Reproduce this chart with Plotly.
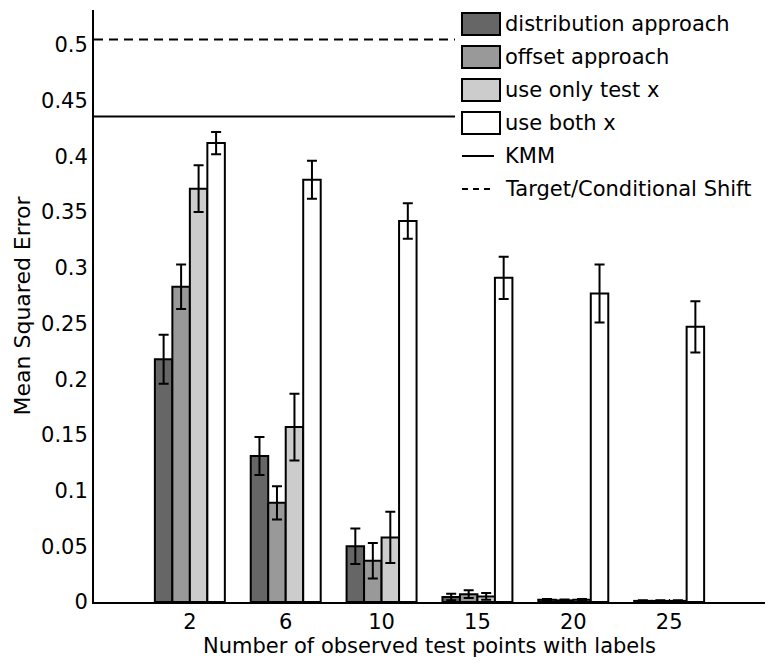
import plotly.graph_objects as go

# ---- data ----
categories = ["2", "6", "10", "15", "20", "25"]
series_names = ["distribution approach", "offset approach", "use only test x", "use both x"]
distribution_vals = [0.218, 0.131, 0.050, 0.0045, 0.0020, 0.0010]
distribution_err = [0.022, 0.017, 0.016, 0.0030, 0.0008, 0.0005]
offset_vals = [0.283, 0.089, 0.037, 0.0070, 0.0015, 0.0010]
offset_err = [0.020, 0.015, 0.016, 0.0035, 0.0008, 0.0005]
testx_vals = [0.371, 0.157, 0.058, 0.0050, 0.0020, 0.0010]
testx_err = [0.021, 0.030, 0.023, 0.0030, 0.0008, 0.0005]
bothx_vals = [0.412, 0.379, 0.342, 0.291, 0.277, 0.247]
bothx_err = [0.010, 0.017, 0.016, 0.019, 0.026, 0.023]
kmm_value = 0.4357
target_shift_value = 0.505
yticks = [0, 0.05, 0.1, 0.15, 0.2, 0.25, 0.3, 0.35, 0.4, 0.45, 0.5]
ytick_text = ["0", "0.05", "0.1", "0.15", "0.2", "0.25", "0.3", "0.35", "0.4", "0.45", "0.5"]

colors = ["#666666", "#999999", "#cccccc", "#ffffff"]
FONT = "DejaVu Sans"
FS = 21

xpos = list(range(1, len(categories) + 1))
fig = go.Figure()

# reference lines (across full x range)
fig.add_trace(go.Scatter(x=[0, len(categories) + 1], y=[kmm_value, kmm_value], mode="lines",
                         line=dict(color="black", width=2), showlegend=False, hoverinfo="skip"))
fig.add_trace(go.Scatter(x=[0, len(categories) + 1], y=[target_shift_value, target_shift_value], mode="lines",
                         line=dict(color="black", width=2, dash="9px,6px"), showlegend=False, hoverinfo="skip"))

all_vals = [distribution_vals, offset_vals, testx_vals, bothx_vals]
all_errs = [distribution_err, offset_err, testx_err, bothx_err]
for name, vals, errs, col in zip(series_names, all_vals, all_errs, colors):
    fig.add_trace(go.Bar(
        x=xpos, y=vals, name=name,
        marker=dict(color=col, line=dict(color="black", width=2)),
        error_y=dict(type="data", array=errs, visible=True, color="black", thickness=2, width=5),
        showlegend=False,
    ))

# ---- manual legend (paper coords) ----
L, R, T, B = 94, 765, 10, 602
W, H = R - L, B - T
def px(x):
    return (x - L) / W
def py(y):
    return (B - y) / H

shapes = []
annotations = []
# white legend background covering the reference lines
shapes.append(dict(type="rect", xref="paper", yref="paper", x0=px(455), x1=px(769), y0=py(205), y1=py(12),
                   fillcolor="white", line=dict(width=0), layer="above"))
labels = series_names + ["KMM", "Target/Conditional Shift"]
for i, lab in enumerate(labels):
    cy = 24 + 33 * i
    if i < 4:
        shapes.append(dict(type="rect", xref="paper", yref="paper", x0=px(462), x1=px(500),
                           y0=py(cy + 11), y1=py(cy - 11), fillcolor=colors[i],
                           line=dict(color="black", width=2), layer="above"))
    elif i == 4:
        shapes.append(dict(type="line", xref="paper", yref="paper", x0=px(462), x1=px(494),
                           y0=py(cy), y1=py(cy), line=dict(color="black", width=2), layer="above"))
    else:
        shapes.append(dict(type="line", xref="paper", yref="paper", x0=px(462), x1=px(494),
                           y0=py(cy), y1=py(cy), line=dict(color="black", width=2, dash="6px,5px"),
                           layer="above"))
    annotations.append(dict(xref="paper", yref="paper", x=px(503), y=py(cy), text=lab, showarrow=False,
                            xanchor="left", yanchor="middle", font=dict(family=FONT, size=FS, color="black")))

fig.update_layout(
    width=769, height=667,
    margin=dict(l=L, r=769 - R, t=T, b=667 - B),
    paper_bgcolor="white", plot_bgcolor="white",
    barmode="group", bargap=0.27, bargroupgap=0,
    font=dict(family=FONT, size=FS, color="black"),
    shapes=shapes, annotations=annotations,
    showlegend=False,
)
fig.update_xaxes(
    range=[0, len(categories) + 1], tickvals=xpos, ticktext=categories,
    showline=True, linecolor="black", linewidth=2, showgrid=False, zeroline=False,
    ticks="inside", ticklen=3, tickcolor="black", tickwidth=1,
    title=dict(text="Number of observed test points with labels", standoff=2, font=dict(size=FS)),
    tickfont=dict(size=FS),
)
fig.update_yaxes(
    range=[0, 0.5314], tickvals=yticks, ticktext=ytick_text,
    showline=True, linecolor="black", linewidth=2, showgrid=False, zeroline=False,
    ticks="", tickfont=dict(size=FS),
    title=dict(text="Mean Squared Error", standoff=4, font=dict(size=22)),
)

fig.write_html("out.html")
